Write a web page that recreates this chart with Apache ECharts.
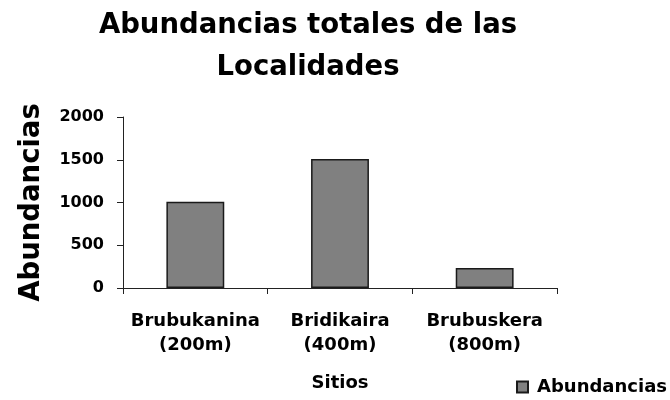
<!DOCTYPE html>
<html>
<head>
<meta charset="utf-8">
<script src="https://cdn.jsdelivr.net/npm/echarts@6/dist/echarts.min.js"></script>
<style>
html, body { margin: 0; padding: 0; background: #fff; }
#main { width: 670px; height: 400px; }
</style>
</head>
<body>
<div id="main"></div>
<script>
// datos
var sitios = ['Brubukanina\n(200m)', 'Bridikaira\n(400m)', 'Brubuskera\n(800m)'];
var abundancias = [1010, 1510, 235];
var yTicks = [0, 500, 1000, 1500, 2000];

var myChart = echarts.init(document.getElementById('main'));
var fuente = '"DejaVu Sans", Verdana, sans-serif';

var option = {
    backgroundColor: '#fff',
    animation: false,
    title: {
        text: 'Abundancias totales de las\nLocalidades',
        left: 303,
        top: 0,
        textAlign: 'center',
        textStyle: {
            fontFamily: fuente,
            fontSize: 27.5,
            fontWeight: 'bold',
            color: '#000',
            lineHeight: 42
        }
    },
    legend: {
        data: ['Abundancias'],
        left: 511,
        top: 373,
        itemWidth: 11,
        itemHeight: 11,
        icon: 'rect',
        textStyle: { fontFamily: fuente, fontSize: 18, fontWeight: 'bold', color: '#000', padding: [0, 0, 0, 4] }
    },
    grid: { left: 123, right: 113, top: 117, bottom: 112, outerBoundsMode: 'none' },
    xAxis: {
        type: 'category',
        data: sitios,
        name: 'Sitios',
        nameLocation: 'middle',
        nameGap: 86,
        nameTextStyle: { fontFamily: fuente, fontSize: 18, fontWeight: 'bold', color: '#000' },
        axisLine: { lineStyle: { color: '#222', width: 1 } },
        axisTick: { show: true, length: 6, lineStyle: { color: '#222' } },
        axisLabel: {
            interval: 0,
            fontFamily: fuente, fontSize: 18, fontWeight: 'bold', color: '#000',
            margin: 21, lineHeight: 24
        }
    },
    yAxis: {
        type: 'value',
        min: yTicks[0],
        max: yTicks[yTicks.length - 1],
        interval: 500,
        name: 'Abundancias',
        nameLocation: 'middle',
        nameGap: 77,
        nameRotate: 90,
        nameTextStyle: { fontFamily: fuente, fontSize: 27.5, fontWeight: 'bold', color: '#000' },
        axisLine: { show: true, lineStyle: { color: '#222', width: 1 } },
        axisTick: { show: true, length: 6, lineStyle: { color: '#222' } },
        splitLine: { show: false },
        axisLabel: {
            fontFamily: fuente, fontSize: 16, fontWeight: 'bold', color: '#000', margin: 19,
            formatter: function (v) { return String(v); }
        }
    },
    series: [{
        name: 'Abundancias',
        type: 'bar',
        data: abundancias,
        barWidth: '40%',
        itemStyle: { color: '#808080', borderColor: '#1a1a1a', borderWidth: 1.5 }
    }]
};

myChart.setOption(option);
</script>
</body>
</html>
